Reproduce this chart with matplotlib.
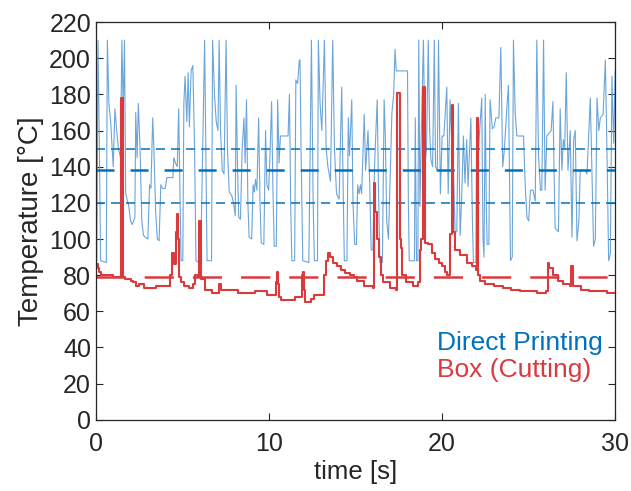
import matplotlib
matplotlib.use("Agg")
import matplotlib.pyplot as plt

plt.rcParams['font.family'] = ['Liberation Sans', 'DejaVu Sans']
plt.rcParams['lines.scale_dashes'] = False

# direct printing nozzle temperature trace (time [s], temperature [C])
t_print = [0.0, 0.05, 0.12, 0.2, 0.27, 0.6, 0.66, 0.75, 0.85, 1.0, 1.1, 1.2, 1.3, 1.42,
           1.5, 1.58, 1.65, 1.72, 1.8, 1.9, 2.0, 2.1, 2.25, 2.3, 2.38, 2.45, 2.55, 2.65,
           2.75, 2.85, 3.0, 3.1, 3.18, 3.28, 3.35, 3.45, 3.55, 3.65, 3.75, 3.85, 4.0,
           4.1, 4.45, 4.5, 4.6, 4.7, 4.78, 4.85, 4.92, 5.02, 5.08, 5.15, 5.25, 5.33, 5.4,
           5.5, 5.6, 5.7, 5.78, 5.95,
           6.05, 6.28, 6.35, 6.42, 6.68, 6.74, 6.85, 6.95, 7.05, 7.12, 7.2, 7.3, 7.4,
           7.52, 7.6, 7.7, 7.85, 7.95, 8.05, 8.1, 8.18, 8.25, 8.35, 8.45, 8.55, 8.62,
           8.7, 8.78, 8.85, 9.0, 9.08, 9.15, 9.22, 9.3, 9.4, 9.48, 9.55, 9.7, 9.8, 9.88,
           9.98, 10.05, 10.15, 10.22, 10.3, 10.42, 10.5, 10.58, 10.66, 11.1, 11.18,
           11.25, 11.32, 11.48, 11.55, 11.65, 11.75,
           11.79, 11.85, 11.95, 12.3, 12.45, 12.55, 12.62, 12.8, 12.85, 12.95, 13.05,
           13.2, 13.3, 13.4, 13.55, 13.68, 13.78, 13.9, 14.05, 14.2, 14.28, 14.35, 14.5,
           14.58, 14.65, 14.78, 14.85, 14.95, 15.05, 15.12, 15.2, 15.28, 15.35, 15.5,
           15.58, 15.72, 15.82, 15.9, 16.0, 16.1, 16.25, 16.32, 16.4, 16.55, 16.65,
           16.72, 16.8, 16.9, 17.1, 17.2, 17.28, 17.35,
           18.0, 18.05, 18.1, 18.4, 18.45, 18.52, 18.6, 18.65, 18.72, 18.8, 18.92, 19.02,
           19.1, 19.2, 19.28, 19.35, 19.45, 19.55, 19.62, 19.72, 19.79, 19.9, 20.0, 20.1,
           20.27, 20.35, 20.46, 20.55, 20.65, 20.75, 20.85, 20.94, 21.04, 21.12, 21.23,
           21.32, 21.42, 21.5, 21.66, 21.75, 21.81, 21.95, 22.0, 22.1, 22.29, 22.36,
           22.42, 22.49, 22.55, 22.6, 22.7, 22.77, 22.9, 23.0, 23.1, 23.28, 23.39, 23.5,
           23.6, 23.74,
           23.83, 23.9, 23.95, 24.05, 24.12, 24.22, 24.32, 24.7, 24.8, 24.9, 25.0, 25.1,
           25.25, 25.38, 25.47, 25.57, 25.68, 25.76, 25.86, 25.95, 26.05, 26.3, 26.4,
           26.48, 26.53, 26.72, 26.82, 26.92, 27.0, 27.08, 27.17, 27.27, 27.4, 27.5,
           27.6, 27.69, 27.79, 27.9, 27.98, 28.27, 28.37, 28.56, 28.65, 28.75, 28.85,
           28.95, 29.05, 29.14, 29.3, 29.43, 29.52, 29.62, 29.72, 29.81, 29.91, 30.0]
T_print = [120, 88, 210, 150, 88, 87, 210, 175, 165, 140, 172, 160, 150, 145,
           210, 170, 210, 125, 122, 118, 110, 108, 112, 170, 145, 175, 150, 110,
           102, 101, 100, 130, 128, 167, 150, 115, 100, 99, 130, 128, 128,
           134, 134, 145, 142, 140, 172, 130, 88, 88, 175, 190, 165, 192, 162,
           193, 196, 150, 88, 87,
           87, 210, 150, 88, 88, 210, 180, 165, 160, 210, 160, 138, 136,
           210, 150, 126, 124, 120, 113, 185, 140, 112, 111, 150, 167, 142,
           177, 120, 101, 100, 130, 126, 133, 127, 167, 120, 98, 97, 160, 130,
           127, 145, 176, 130, 96, 96, 177, 142, 157, 157, 180,
           120, 88, 88, 188, 186, 199,
           199, 150, 88, 87, 210, 120, 88, 88, 210, 175, 160,
           210, 150, 140, 132, 210, 150, 125, 122, 184, 130, 88, 88,
           167, 146, 177, 120, 97, 97, 130, 125, 130, 125, 169,
           138, 160, 130, 94, 94, 142, 177, 130, 87, 87, 177,
           157, 110, 100, 170, 180, 205, 193,
           193, 120, 88, 88, 167, 88, 88, 210, 118, 160, 210, 142,
           150, 210, 160, 144, 140, 210, 140, 138, 210, 125, 157, 157,
           184, 125, 177, 155, 140, 104, 104, 175, 102, 120, 157,
           131, 155, 129, 167, 110, 87, 87, 167, 150, 178, 100,
           90, 180, 120, 97, 97, 177, 161, 162, 167, 167, 206, 140,
           150, 173,
           185, 130, 88, 90, 210, 170, 157, 157, 130, 112, 110, 127,
           127, 121, 210, 146, 127, 127, 210, 127, 157, 160, 176,
           130, 106, 104, 172, 138, 155, 150, 192, 138, 160, 101,
           155, 160, 99, 110, 138, 138, 136, 178, 140, 96, 100,
           178, 160, 167, 169, 199, 150, 88, 92, 190, 153, 193]

# box (cutting) temperature trace
t_box = [0.0, 0.03, 0.1, 0.2, 0.3, 1.0, 1.4, 1.45, 1.5, 1.55, 1.7, 2.0, 2.15, 2.3,
         2.5, 2.8, 3.3, 3.5, 4.1, 4.3, 4.4, 4.5, 4.6, 4.66, 4.72, 4.8, 4.9, 5.1, 5.4,
         5.6, 5.75, 5.9, 5.98, 6.03, 6.08, 6.3, 6.7, 7.05, 7.1, 7.2, 8.0, 8.2, 9.1,
         9.2, 9.8, 9.9, 10.3, 10.4, 10.45, 10.52, 10.6, 10.7, 11.4, 11.5, 11.85, 11.9,
         11.95, 12.0, 12.1, 12.4, 12.6, 13.0, 13.15, 13.3, 13.38, 13.5, 13.7, 13.9,
         14.15, 14.4, 14.7, 14.9, 15.1, 15.5, 16.0, 16.05, 16.15, 16.25, 16.35, 16.45,
         16.6, 17.0, 17.35, 17.4, 17.48, 17.55, 17.6, 17.7, 17.9, 18.3, 18.6, 18.7,
         18.8, 18.88, 18.95, 19.02, 19.2, 19.4, 19.6, 19.8, 20.0, 20.15, 20.3, 20.45,
         20.55, 20.6, 20.65, 20.75, 21.04, 21.42, 21.71, 21.95, 22.0, 22.05, 22.1,
         22.2, 22.5, 23.0, 23.5, 24.0, 24.5, 25.0, 25.5, 26.0, 26.1, 26.2, 26.4, 26.7, 27.0,
         27.4, 27.45, 27.5, 27.55, 28.0, 28.5, 29.0, 29.5, 30.0]
T_box = [148, 86, 84, 82, 80, 79, 79, 178, 178, 79, 78, 77, 76, 74,
         75, 73, 73, 74, 74, 80, 92, 86, 104, 114, 100, 79, 76, 74, 73,
         75, 80, 79, 110, 110, 78, 72, 70, 70, 75, 72, 72, 70, 70,
         71, 71, 69, 69, 76, 82, 75, 68, 66, 66, 68, 68, 80,
         82, 72, 65, 67, 69, 69, 80, 88, 92, 90, 87, 85,
         83, 81, 80, 79, 77, 74, 73, 131, 115, 100, 90, 80,
         76, 73, 72, 181, 181, 100, 95, 80, 76, 74, 76, 94,
         100, 184, 184, 98, 97, 92, 89, 87, 85, 82, 80, 103,
         174, 174, 104, 94, 91, 87, 85, 83, 167, 167, 80,
         77, 75, 74, 73, 72, 71, 71, 70, 71, 87, 84, 80, 77, 75,
         74, 85, 85, 74, 72, 71, 71, 70, 70]

# reference levels
print_target = 138
print_band = [120, 150]
box_target = 79

blue = '#0072BD'
red = '#DB3A3D'

fig, ax = plt.subplots(figsize=(6.31, 4.91), dpi=100)
fig.subplots_adjust(left=0.152, right=0.975, bottom=0.145, top=0.955)

ax.plot(t_print, T_print, color='#5b9bd5', lw=0.8, alpha=0.9)
ax.axhline(print_target, color=blue, lw=1.8, dashes=(13, 11.5))
for lev in print_band:
    ax.axhline(lev, color=blue, lw=1.1, dashes=(6.5, 4.3))
ax.plot(t_box, T_box, color=red, lw=1.5, drawstyle='steps-post')
ax.axhline(box_target, color=red, lw=1.8, dashes=(21, 13.7))

ax.set_xlim(0, 30)
ax.set_ylim(0, 220)
ax.set_xticks([0, 10, 20, 30])
ax.set_yticks(range(0, 221, 20))
ax.tick_params(direction='in', length=5, width=0.8, labelsize=18, top=True, right=True,
               colors='#262626')
ax.tick_params(axis='x', pad=9)
for s in ax.spines.values():
    s.set_linewidth(0.9)
    s.set_color('#262626')

ax.set_xlabel('time [s]', fontsize=18.5, labelpad=3, color='#262626')
ax.set_ylabel('Temperature [°C]', fontsize=20, labelpad=4, color='#262626')

ax.text(0.657, 0.193, 'Direct Printing', color=blue, fontsize=19,
        transform=ax.transAxes, va='center', ha='left')
ax.text(0.657, 0.126, 'Box (Cutting)', color=red, fontsize=19,
        transform=ax.transAxes, va='center', ha='left')

plt.savefig('out.png', dpi=100)
plt.close()
